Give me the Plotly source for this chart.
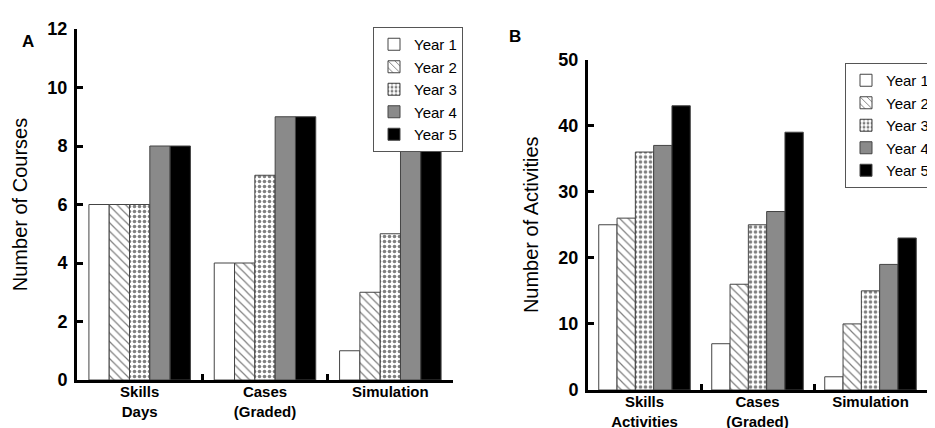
import plotly.graph_objects as go

years = ["Year 1", "Year 2", "Year 3", "Year 4", "Year 5"]
cats_a = ["Skills<br>Days", "Cases<br>(Graded)", "Simulation"]
cats_b = ["Skills<br>Activities", "Cases<br>(Graded)", "Simulation"]

courses = {
    "Year 1": [6, 4, 1],
    "Year 2": [6, 4, 3],
    "Year 3": [6, 7, 5],
    "Year 4": [8, 9, 8],
    "Year 5": [8, 9, 8],
}
activities = {
    "Year 1": [25, 7, 2],
    "Year 2": [26, 16, 10],
    "Year 3": [36, 25, 15],
    "Year 4": [37, 27, 19],
    "Year 5": [43, 39, 23],
}

styles = {
    "Year 1": dict(color="white", pattern=dict(shape="")),
    "Year 2": dict(color="white", pattern=dict(shape="\\", fgcolor="black", bgcolor="white", size=6, solidity=0.2)),
    "Year 3": dict(color="white", pattern=dict(shape=".", fgcolor="black", bgcolor="white", size=5, solidity=0.4)),
    "Year 4": dict(color="#8a8a8a", pattern=dict(shape="")),
    "Year 5": dict(color="black", pattern=dict(shape="")),
}

FONT = "Arial, Liberation Sans, sans-serif"
fig = go.Figure()

for y in years:
    st = styles[y]
    fig.add_trace(go.Bar(
        x=cats_a, y=courses[y], name=y, xaxis="x", yaxis="y", legend="legend",
        marker=dict(color=st["color"], pattern=st["pattern"], line=dict(color="#444", width=1)),
    ))
for y in years:
    st = styles[y]
    fig.add_trace(go.Bar(
        x=cats_b, y=activities[y], name=y, xaxis="x2", yaxis="y2", legend="legend2",
        marker=dict(color=st["color"], pattern=st["pattern"], line=dict(color="#444", width=1)),
    ))

# page body has an 8px margin; figure sits at (8, 8) in the 935x428 window
OFF = 8
W, H = 935 - OFF, 428 - OFF
def px(v):
    return (v - OFF) / W
def py(v):
    return (428 - v) / H

xcommon = dict(type="category", showline=True, linecolor="black", linewidth=3,
               ticks="inside", ticklen=6, tickwidth=3, tickcolor="black", tickson="boundaries",
               showgrid=False, zeroline=False, ticklabelstandoff=-4,
               tickfont=dict(family=FONT, size=15, color="black", weight="bold"))
ycommon = dict(showline=True, linecolor="black", linewidth=3,
               ticks="inside", ticklen=6, tickwidth=3, tickcolor="black",
               showgrid=False, zeroline=False, ticklabelstandoff=3,
               tickfont=dict(family=FONT, size=18, color="black", weight="bold"))

fig.update_layout(
    width=W, height=H,
    margin=dict(l=0, r=0, t=0, b=0, autoexpand=False),
    paper_bgcolor="white", plot_bgcolor="white",
    barmode="group", bargap=0.19, bargroupgap=0,
    font=dict(family=FONT, color="black"),
    xaxis=dict(domain=[px(77), px(453)], anchor="y", **xcommon),
    yaxis=dict(domain=[py(380), py(29)], anchor="x", range=[0, 12], dtick=2,
               title=dict(text="Number of Courses", font=dict(family=FONT, size=20)), **ycommon),
    xaxis2=dict(domain=[px(588), px(927)], anchor="y2", **xcommon),
    yaxis2=dict(domain=[py(390), py(59.5)], anchor="x2", range=[0, 50], dtick=10,
                title=dict(text="Number of Activities", font=dict(family=FONT, size=20)), **ycommon),
    legend=dict(x=px(373), y=py(27), xanchor="left", yanchor="top",
                bordercolor="#555", borderwidth=1, bgcolor="white",
                font=dict(family=FONT, size=15), tracegroupgap=0),
    legend2=dict(x=px(845), y=py(63), xanchor="left", yanchor="top",
                 bordercolor="#555", borderwidth=1, bgcolor="white",
                 font=dict(family=FONT, size=15), tracegroupgap=0),
    showlegend=True,
    annotations=[
        dict(text="<b>A</b>", x=px(20), y=py(30), xref="paper", yref="paper",
             showarrow=False, font=dict(family=FONT, size=17)),
        dict(text="<b>B</b>", x=px(515), y=py(25), xref="paper", yref="paper",
             showarrow=False, font=dict(family=FONT, size=17)),
    ],
)

fig.write_html("out.html")
